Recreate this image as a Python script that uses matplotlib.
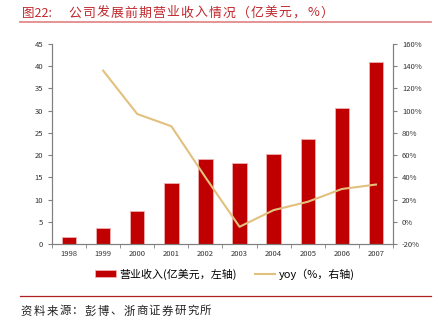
import numpy as np
import matplotlib.pyplot as plt
from matplotlib.ticker import FuncFormatter

plt.rcParams['font.family'] = ['Noto Sans CJK SC', 'DejaVu Sans']

years = ['1998', '1999', '2000', '2001', '2002', '2003', '2004', '2005', '2006', '2007']
revenue = [1.6, 3.7, 7.35, 13.7, 19.05, 18.2, 20.15, 23.7, 30.6, 40.9]
yoy_years = years[1:]
yoy = [136, 97, 86, 40, -4.5, 10.5, 18, 29.5, 33.5]

bar_color = '#C00000'
line_color = '#E2C07E'
axis_color = '#808080'

W, H = 439, 330
fig = plt.figure(figsize=(W / 100, H / 100), dpi=100)
ax = fig.add_axes([52/W, 1-244/H, 341/W, 200/H])
ax2 = ax.twinx()

x = np.arange(len(years))
ax.bar(x, revenue, width=0.42, color=bar_color, edgecolor='#F0B0B0', linewidth=0.6,
       label='营业收入(亿美元，左轴)', zorder=2)
ax2.plot(x[1:], yoy, color=line_color, lw=1.5, label='yoy（%，右轴)', zorder=3)

ax.set_xlim(-0.5, len(years) - 0.5)
ax.set_ylim(0, 45)
ax.set_yticks(np.arange(0, 46, 5))
ax2.set_ylim(-20, 160)
ax2.set_yticks(np.arange(-20, 161, 20))
ax2.yaxis.set_major_formatter(FuncFormatter(lambda v, p: f'{v:.0f}%'))

ax.set_xticks(x)
ax.set_xticklabels(years)
ax.set_xticks(np.arange(-0.5, len(years), 1), minor=True)
ax.tick_params(axis='x', which='major', length=0, labelsize=5.5, pad=4, colors='#333333')
ax.tick_params(axis='x', which='minor', length=3, direction='out', color=axis_color)
ax.tick_params(axis='y', labelsize=5.5, length=3, color=axis_color, labelcolor='#333333')
ax2.tick_params(axis='y', labelsize=5.5, length=3, color=axis_color, labelcolor='#333333')

for a in (ax, ax2):
    a.spines['top'].set_visible(False)
    for s in ('left', 'right', 'bottom'):
        a.spines[s].set_color(axis_color)
        a.spines[s].set_linewidth(0.8)

h1, l1 = ax.get_legend_handles_labels()
h2, l2 = ax2.get_legend_handles_labels()
fig.legend(h1 + h2, l1 + l2, loc='center', bbox_to_anchor=(225/W, 1 - 274/H), ncol=2,
           frameon=False, fontsize=7.9, handlelength=1.9, handleheight=0.6,
           columnspacing=1.6, handletextpad=0.3)


def spaced_text(s, x0, y0, step, **kw):
    # place characters one by one to mimic the wide CJK spacing
    for i, ch in enumerate(s):
        fig.text((x0 + i * step) / W, 1 - y0 / H, ch, ha='center', va='center', **kw)


# title and source
fig.text(22/W, 1 - 13/H, '图22:', color='#C0282D', fontsize=9, va='center', ha='left')
spaced_text('公司发展前期营业收入情况（亿美元，%）', 75, 13, 14.0, color='#C0282D', fontsize=9.3)
fig.add_artist(plt.Line2D([20/W, 431/W], [1 - 22/H, 1 - 22/H], color='#E08080', lw=1.2))
fig.add_artist(plt.Line2D([20/W, 431/W], [1 - 296/H, 1 - 296/H], color='#B02020', lw=0.9))
spaced_text('资料来源：彭博、浙商证券研究所', 26.5, 311, 12.8, color='#222222', fontsize=8.2)

fig.savefig('out.png', dpi=100)
